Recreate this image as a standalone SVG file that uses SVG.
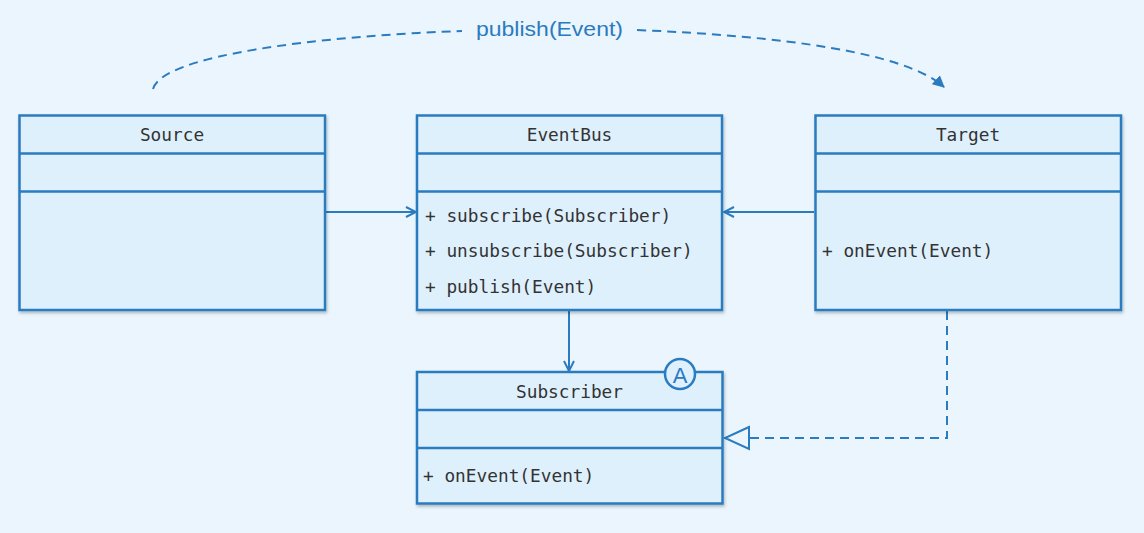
<svg xmlns="http://www.w3.org/2000/svg" width="1144" height="533" viewBox="0 0 1144 533">
<defs>
<style>
.box{fill:#dff0fd;stroke:#2b7bc0;stroke-width:2.5}
.div{stroke:#2b7bc0;stroke-width:2.5}
.t{font-family:"DejaVu Sans Mono","Liberation Mono",monospace;font-size:17.8px;fill:#333}
.c{text-anchor:middle}
.conn{fill:none;stroke:#2b7bc0;stroke-width:2}
.dash{stroke-dasharray:9 6}
</style>
<filter id="sh" x="-5%" y="-5%" width="110%" height="115%">
<feDropShadow dx="1" dy="2" stdDeviation="1.5" flood-color="#000" flood-opacity="0.25"/>
</filter>
<marker id="open" viewBox="0 0 12 12" refX="11" refY="6" markerWidth="12" markerHeight="12" markerUnits="userSpaceOnUse" orient="auto">
<path d="M1,1 L11,6 L1,11" fill="none" stroke="#2b7bc0" stroke-width="2"/>
</marker>
<marker id="fill" viewBox="0 0 12 12" refX="11" refY="6" markerWidth="12" markerHeight="12" markerUnits="userSpaceOnUse" orient="auto">
<path d="M0,0 L12,6 L0,12 Z" fill="#2b7bc0"/>
</marker>
</defs>
<rect width="1144" height="533" fill="#eaf5fd"/>

<g id="connectors">
<path class="conn dash" d="M153,89 C162,55 320,36 462,31"/>
<path class="conn dash" d="M637,30 C780,36 905,52 944,87" marker-end="url(#fill)"/>
<line class="conn" x1="326" y1="212" x2="416" y2="212" marker-end="url(#open)"/>
<line class="conn" x1="814" y1="212" x2="724" y2="212" marker-end="url(#open)"/>
<line class="conn" x1="569" y1="311" x2="569" y2="371" marker-end="url(#open)"/>
<path class="conn dash" d="M947,311 L947,438 L750,438"/>
<path d="M749,427 L725,438 L749,449 Z" fill="#eaf5fd" stroke="#2b7bc0" stroke-width="2"/>
<text x="549.5" y="36" text-anchor="middle" font-family="Liberation Sans, Arial, sans-serif" font-size="21" fill="#2b7bc0" textLength="147" lengthAdjust="spacingAndGlyphs">publish(Event)</text>
</g>

<g id="source">
<rect class="box" x="19.5" y="115.5" width="305.5" height="194.5" filter="url(#sh)"/>
<line class="div" x1="19.5" y1="153.5" x2="325" y2="153.5"/>
<line class="div" x1="19.5" y1="191.5" x2="325" y2="191.5"/>
<text class="t c" x="172" y="141">Source</text>
</g>

<g id="eventbus">
<rect class="box" x="417" y="115.5" width="305" height="194.5" filter="url(#sh)"/>
<line class="div" x1="417" y1="153.5" x2="722" y2="153.5"/>
<line class="div" x1="417" y1="191.5" x2="722" y2="191.5"/>
<text class="t c" x="569.5" y="141">EventBus</text>
<text class="t" x="425" y="222">+ subscribe(Subscriber)</text>
<text class="t" x="425" y="257">+ unsubscribe(Subscriber)</text>
<text class="t" x="425" y="293">+ publish(Event)</text>
</g>

<g id="target">
<rect class="box" x="815.5" y="115.5" width="305.5" height="194.5" filter="url(#sh)"/>
<line class="div" x1="815.5" y1="153.5" x2="1121" y2="153.5"/>
<line class="div" x1="815.5" y1="191.5" x2="1121" y2="191.5"/>
<text class="t c" x="968" y="141">Target</text>
<text class="t" x="822" y="257">+ onEvent(Event)</text>
</g>

<g id="subscriber">
<rect class="box" x="417" y="372" width="305.5" height="131.5" filter="url(#sh)"/>
<line class="div" x1="417" y1="410" x2="722.5" y2="410"/>
<line class="div" x1="417" y1="448" x2="722.5" y2="448"/>
<text class="t c" x="569.5" y="398">Subscriber</text>
<text class="t" x="423" y="482">+ onEvent(Event)</text>
<circle cx="680" cy="374" r="15" fill="#dff0fd" stroke="#2b7bc0" stroke-width="2.5"/>
<text x="680" y="382.5" text-anchor="middle" font-family="Liberation Sans, Arial, sans-serif" font-size="22" fill="#2b7bc0">A</text>
</g>
</svg>
